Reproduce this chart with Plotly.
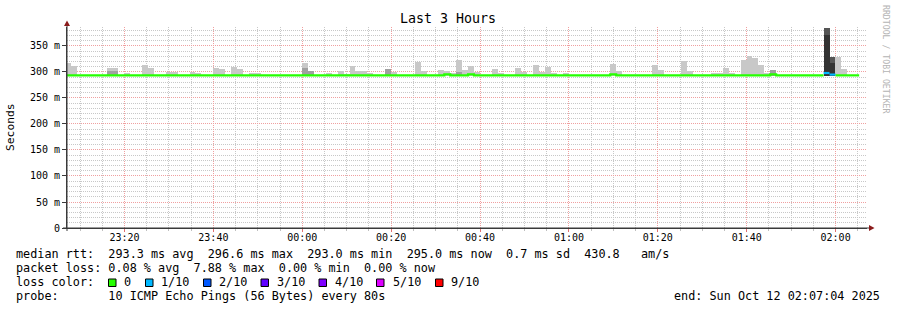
import plotly.graph_objects as go

# ---------------- data ----------------
# smoke (ping distribution) per 80 s step: step start, max ping, inner band top, lost pings
smoke_time = ["23:06:38", "23:07:58", "23:15:58", "23:17:18", "23:19:58", "23:23:58", "23:25:18",
              "23:29:18", "23:30:38", "23:34:38", "23:35:58", "23:39:58", "23:41:18", "23:43:58",
              "23:45:18", "23:47:58", "23:49:18", "23:59:58", "00:01:18", "00:05:18", "00:07:58",
              "00:09:18", "00:10:38", "00:11:58", "00:13:18", "00:14:38", "00:18:38", "00:19:58",
              "00:25:18", "00:26:38", "00:30:38", "00:31:58", "00:33:18", "00:34:38", "00:35:58",
              "00:37:18", "00:38:38", "00:42:38", "00:43:58", "00:47:58", "00:49:18", "00:51:58",
              "00:53:18", "00:54:38", "00:55:58", "00:58:38", "01:09:18", "01:10:38", "01:18:38",
              "01:19:58", "01:25:18", "01:26:38", "01:31:58", "01:33:18", "01:34:38", "01:35:58",
              "01:38:38", "01:39:58", "01:41:18", "01:42:38", "01:43:58", "01:45:18", "01:57:18",
              "01:58:38", "01:59:58", "02:01:18"]
smoke_max = [317, 311.5, 307.7, 307.7, 298, 313.5, 307.7,
             300.6, 300.6, 300.6, 298, 307.7, 306, 309.5,
             306, 298, 298, 317, 302, 298, 302,
             297, 311.5, 302, 302, 298, 305.8, 300,
             319, 302, 303.8, 302, 298, 323, 303.8,
             311.5, 300, 305.8, 298, 307.7, 300, 313.5,
             300, 309.6, 298, 298, 315.4, 302, 313.5,
             303.8, 321, 302, 298, 298, 307.7, 298,
             323, 330.8, 327, 313.5, 298, 303.8, 385,
             328.8, 328.8, 305.8]
smoke_inner = [None, None, 302, 302, None, None, None,
               None, None, None, None, None, None, None,
               None, None, None, 307.7, 302, None, None,
               None, None, None, None, None, 305.8, None,
               None, None, None, None, None, 300, None,
               None, None, None, None, None, None, None,
               None, None, None, None, None, None, None,
               None, None, None, None, None, None, None,
               None, None, None, None, None, 303.8, 371,
               317, None, None]
smoke_loss = [0] * 62 + [1, 1, 0, 0]
smoke_floor = 292.0  # lowest ping of the period (hidden under median line)

# median rtt runs: start, value, lost pings ; last run ends at med_end
med_start = ["23:06:38", "00:31:58", "00:33:18", "00:37:18", "00:38:38", "01:09:18", "01:10:38",
             "01:45:18", "01:46:38", "01:57:18", "01:58:38", "01:59:58"]
med_value = [293.5, 295.5, 293.5, 295.5, 293.5, 295.5, 293.5, 295.5, 293.5, 298.0, 295.0, 293.5]
med_loss = [0, 0, 0, 0, 0, 0, 0, 0, 0, 1, 1, 0]
med_end = "02:05:18"

y_ticks = [0, 50, 100, 150, 200, 250, 300, 350]
y_tick_text = ["0", "50 m", "100 m", "150 m", "200 m", "250 m", "300 m", "350 m"]

loss_labels = ["0", "1/10", "2/10", "3/10", "4/10", "5/10", "9/10"]
loss_colors = ["#26ff00", "#00b8ff", "#0059ff", "#5e00ff", "#7e00ff", "#dd00ff", "#ff0000"]

stats_rtt = "median rtt:  293.3 ms avg  296.6 ms max  293.0 ms min  295.0 ms now  0.7 ms sd  430.8   am/s"
stats_loss = "packet loss: 0.08 % avg  7.88 % max  0.00 % min  0.00 % now"
probe_text = "probe:       10 ICMP Echo Pings (56 Bytes) every 80s"
end_text = "end: Sun Oct 12 02:07:04 2025"
title_text = "Last 3 Hours"

# ---------------- helpers ----------------
def ts(hms):
    day = "2025-10-11" if int(hms[:2]) >= 12 else "2025-10-12"
    return f"{day} {hms}"

W, H = 897, 310
L, R, T, B = 67, 867, 27, 228  # plot area pixels


def px(x):
    return (x - L) / (R - L)


def py(y):
    return (B - y) / (B - T)


MONO = "DejaVu Sans Mono"
STEP_MS = 80000
outer_color = {0: "#c8c8c8", 1: "#555555"}
inner_color = {0: "#a0a0a0", 1: "#333333"}
med_color = {0: loss_colors[0], 1: loss_colors[1]}

fig = go.Figure()

# outer smoke
fig.add_trace(go.Bar(
    x=[ts(t) for t in smoke_time],
    base=[smoke_floor] * len(smoke_time),
    y=[m - smoke_floor for m in smoke_max],
    width=[STEP_MS] * len(smoke_time), offset=0,
    marker=dict(color=[outer_color[l] for l in smoke_loss], line=dict(width=0)),
    hoverinfo="skip", showlegend=False))

# inner smoke
ix = [i for i, v in enumerate(smoke_inner) if v is not None]
fig.add_trace(go.Bar(
    x=[ts(smoke_time[i]) for i in ix],
    base=[smoke_floor] * len(ix),
    y=[smoke_inner[i] - smoke_floor for i in ix],
    width=[STEP_MS] * len(ix), offset=0,
    marker=dict(color=[inner_color[smoke_loss[i]] for i in ix], line=dict(width=0)),
    hoverinfo="skip", showlegend=False))

# median line
ends = med_start[1:] + [med_end]
gx, gy, cx, cy = [], [], [], []
for s, e, v, l in zip(med_start, ends, med_value, med_loss):
    if l == 0:
        gx += [ts(s), ts(e)]
        gy += [v, v]
    else:
        gx.append(None); gy.append(None)
        cx += [ts(s), ts(e), None]
        cy += [v, v, None]
fig.add_trace(go.Scatter(x=gx, y=gy, mode="lines", line=dict(color=med_color[0], width=2.2),
                         connectgaps=False, hoverinfo="skip", showlegend=False))
fig.add_trace(go.Scatter(x=cx, y=cy, mode="lines", line=dict(color=med_color[1], width=2.2),
                         connectgaps=False, hoverinfo="skip", showlegend=False))

AX = "#3a3a3a"
fig.update_layout(
    width=W, height=H, margin=dict(l=L, r=W - R, t=T, b=H - B, pad=0),
    paper_bgcolor="white", plot_bgcolor="white", barmode="overlay", bargap=0,
    font=dict(family=MONO, size=10, color="black"),
    xaxis=dict(type="date", range=["2025-10-11 23:07:04", "2025-10-12 02:07:04"],
               tickformat="%H:%M", dtick=1200000, tick0="2025-10-11 23:20:00",
               showgrid=True, gridcolor="#f0a0a0", griddash="1px,1px", gridwidth=1,
               ticks="outside", ticklen=3, tickcolor="#e07070", ticklabelstandoff=-3,
               tickfont=dict(family=MONO, size=10, color="black"),
               showline=True, linecolor=AX, linewidth=1, zeroline=False,
               minor=dict(dtick=300000, tick0="2025-10-11 23:20:00", showgrid=True,
                          gridcolor="#c8c8c8", griddash="1px,1px", gridwidth=1,
                          ticks="outside", ticklen=2, tickcolor="#c0c0c0")),
    yaxis=dict(range=[0, 386.5], tickvals=y_ticks, ticktext=y_tick_text,
               showgrid=True, gridcolor="#f0a0a0", griddash="1px,1px", gridwidth=1,
               ticks="outside", ticklen=4, tickcolor=AX,
               tickfont=dict(family=MONO, size=10, color="black"),
               showline=True, linecolor=AX, linewidth=1, zeroline=False,
               minor=dict(dtick=10, showgrid=True, gridcolor="#c8c8c8",
                          griddash="1px,1px", gridwidth=1)),
)

shapes = []
ARROW = "#8b1c1c"
# axis extensions + arrows
shapes.append(dict(type="line", xref="paper", yref="paper", x0=px(L), x1=px(L), y0=py(231), y1=py(25),
                   line=dict(color=AX, width=1)))
shapes.append(dict(type="line", xref="paper", yref="paper", x0=px(63), x1=px(870), y0=py(B), y1=py(B),
                   line=dict(color=AX, width=1)))
shapes.append(dict(type="path", xref="paper", yref="paper",
                   path=f"M {px(67)},{py(20.5)} L {px(64)},{py(26)} L {px(70)},{py(26)} Z",
                   fillcolor=ARROW, line=dict(width=0)))
shapes.append(dict(type="path", xref="paper", yref="paper",
                   path=f"M {px(874.5)},{py(228)} L {px(869)},{py(225)} L {px(869)},{py(231)} Z",
                   fillcolor=ARROW, line=dict(width=0)))

annotations = []


def txt(s, x, y, xanchor="left", size=11.8, color="black", angle=0, yanchor="middle"):
    annotations.append(dict(text=s.replace(" ", "\u00a0"), x=px(x), y=py(y), xref="paper", yref="paper",
                            xanchor=xanchor, yanchor=yanchor, showarrow=False, textangle=angle,
                            font=dict(family=MONO, size=size, color=color), borderpad=0))


txt(title_text, 448, 19, xanchor="center", size=13.3)
txt("Seconds", 11, 127, xanchor="center", size=11.3, angle=-90)
txt("RRDTOOL / TOBI OETIKER", 886, 59, xanchor="center", size=8.2, color="#b4b4b4", angle=90)
txt(stats_rtt, 15, 254)
txt(stats_loss, 15, 268)
txt("loss color:", 15, 282)
txt(probe_text, 15, 296)
txt(end_text, 881, 296, xanchor="right")

sq_x = [108.5, 145.5, 203.5, 261, 319, 376.5, 435.5]
lab_x = [123, 160, 218, 276, 334, 392, 450]
for c, lab, sx, lx in zip(loss_colors, loss_labels, sq_x, lab_x):
    shapes.append(dict(type="rect", xref="paper", yref="paper",
                       x0=px(sx), x1=px(sx + 7.5), y0=py(286.5), y1=py(279),
                       fillcolor=c, line=dict(color="black", width=1)))
    txt(lab, lx - 0.5, 282)

fig.update_layout(shapes=shapes, annotations=annotations)
fig.write_html("out.html")
